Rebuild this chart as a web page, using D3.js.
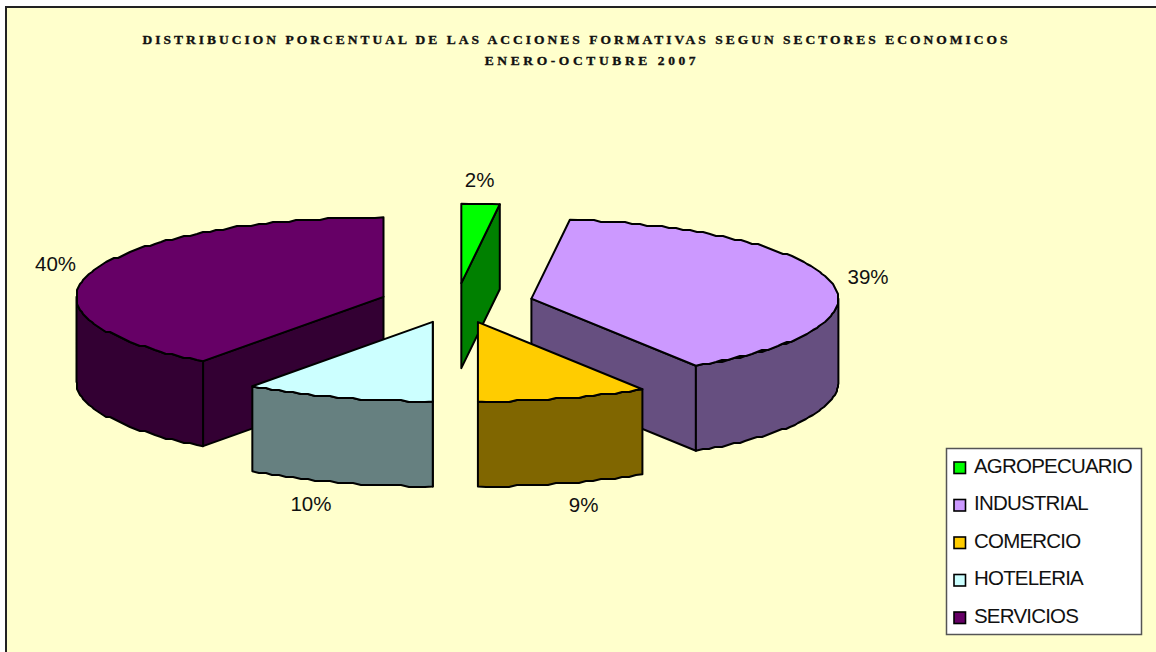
<!DOCTYPE html>
<html><head><meta charset="utf-8">
<script src="https://cdn.jsdelivr.net/npm/d3@7"></script>
<style>html,body{margin:0;padding:0;background:#fff}svg{display:block}</style></head>
<body><svg id="c" width="1156" height="652"></svg>
<script>
const categories = ["AGROPECUARIO","INDUSTRIAL","COMERCIO","HOTELERIA","SERVICIOS"];
const values = [2,39,9,10,40];
const topColors = ["#00ff00","#cc99ff","#ffcc00","#ccffff","#660066"];
const sideColors = ["#008000","#664f80","#806600","#668080","#330033"];
const titleLines = ["DISTRIBUCION PORCENTUAL DE LAS ACCIONES FORMATIVAS SEGUN SECTORES ECONOMICOS","ENERO-OCTUBRE 2007"];

const W=1156,H=652;
const svg=d3.select("#c");
svg.append("rect").attr("x",6).attr("y",7).attr("width",W+10).attr("height",H+10).attr("fill","#ffffcc").attr("stroke","#222").attr("stroke-width",2);
const titleX=[576.5,592], titleY=[44,65], titleGap=[3.0,3.6];
titleLines.forEach((t,i)=>svg.append("text").text(t).attr("x",titleX[i]).attr("y",titleY[i]).attr("text-anchor","middle")
  .attr("font-family","Liberation Serif").attr("font-weight","bold").attr("font-size",13.5).attr("letter-spacing",titleGap[i]).attr("fill","#111").attr("stroke","#111").attr("stroke-width",0.35));

const rx=307, ry=79.5, depth=85, cx=456.5, cy=303, explode=0.25;
const arcs=d3.pie().sort(null).startAngle(0).endAngle(2*Math.PI).value(d=>d)(values);
const pt=(c,a)=>[c[0]+rx*Math.sin(a), c[1]-ry*Math.cos(a)];
const down=p=>[p[0],p[1]+depth];
const line=d3.line();
const seg=(a0,a1)=>{
  const n=Math.max(2,Math.round(Math.abs(a1-a0)*rx/8));
  return d3.range(n+1).map(i=>a0+(a1-a0)*i/n);
};
const snap=p=>[Math.round(p[0]),Math.round(p[1]/2)*2];
const g=svg.append("g").attr("stroke","#000").attr("stroke-width",2).attr("stroke-linejoin","round");
const poly=(pts,fill)=>g.append("path").attr("d",line(pts)+"Z").attr("fill",fill);
const labelShift=[[-1,-24,0],[37,-4,0],[20,21,1],[-27,21,1],[-36,-8,0]];
const labelAt=[];
[0,4,1,3,2].forEach(i=>{
  const d=arcs[i], mid=(d.startAngle+d.endAngle)/2;
  const c=[cx+explode*rx*Math.sin(mid), cy-explode*ry*Math.cos(mid)];
  const rim=seg(d.startAngle,d.endAngle).map(a=>{const p=pt(c,a);return (a===d.startAngle||a===d.endAngle)?p:snap(p);});
  const sa=d.startAngle, ea=d.endAngle;
  const pEnd=pt(c,ea), pStart=pt(c,sa);
  if(Math.sin(ea)>0 && ea<Math.PI) poly([c,pEnd,down(pEnd),down(c)],sideColors[i]);
  if(Math.sin(sa)<0 && sa>Math.PI) poly([c,pStart,down(pStart),down(c)],sideColors[i]);
  const a0=Math.max(sa,Math.PI/2), a1=Math.min(ea,3*Math.PI/2);
  if(a1>a0){
    const w=seg(a0,a1).map(a=>{const p=pt(c,a);return (a===a0||a===a1)?p:snap(p);});
    poly(w.concat(w.map(down).reverse()),sideColors[i]);
  }
  poly([c].concat(rim),topColors[i]);
  const m=pt(c,mid), s=labelShift[i];
  labelAt[i]=[m[0]+s[0],m[1]+s[1]+s[2]*depth];
});

labelAt.forEach((p,i)=>svg.append("text").text(values[i]+"%").attr("x",p[0]).attr("y",p[1]).attr("dy","0.35em")
  .attr("text-anchor","middle").attr("font-family","Liberation Sans").attr("font-size",20.5).attr("fill","#111"));

const lg=svg.append("g");
lg.append("rect").attr("x",946.5).attr("y",448.5).attr("width",195).attr("height",186).attr("fill","#fff").attr("stroke","#555").attr("stroke-width",1.5);
const ly=d3.scalePoint().domain(categories).range([467,617]);
categories.forEach((c,i)=>{
  lg.append("rect").attr("x",954).attr("y",ly(c)-5).attr("width",11.5).attr("height",11.5).attr("fill",topColors[i]).attr("stroke","#000").attr("stroke-width",1.6);
  lg.append("text").text(c).attr("x",974).attr("y",ly(c)-1.5).attr("dy","0.35em").attr("font-family","Liberation Sans").attr("font-size",20.5).attr("letter-spacing",-0.8).attr("fill","#111");
});
</script></body></html>
